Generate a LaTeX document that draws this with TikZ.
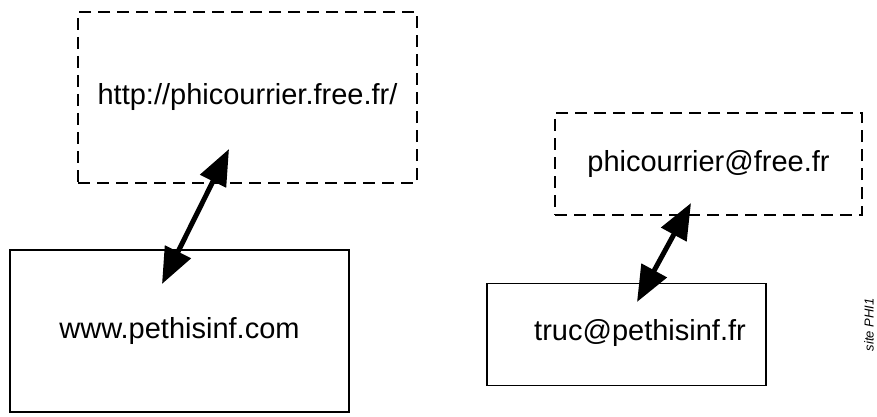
\documentclass[tikz,border=0pt]{standalone}
\usepackage{fontspec}
\setmainfont{Liberation Sans}
\usetikzlibrary{arrows.meta, positioning, calc}

\begin{document}
\begin{tikzpicture}[x=1pt, y=-1pt,
        site/.style={draw, line width=1.3pt, inner sep=0pt, font=\fontsize{29}{34}\selectfont},
        distant/.style={site, dash pattern=on 12pt off 7pt},
        caption/.style={inner sep=0pt, font=\fontsize{29}{34}\selectfont},
        link/.style={line width=5pt, {Triangle[length=36pt,width=28pt]}-{Triangle[length=36pt,width=28pt]}}]

        \useasboundingbox (0,0) rectangle (877,417);

        % remote site
        \node[distant, minimum width=339pt, minimum height=171pt] (web) at (247.5,97.5) {http://phicourrier.free.fr/};
        \node[distant, minimum width=307pt, minimum height=102pt] (mail) at (708.5,164) {phicourrier@free.fr};

        % local site
        \node[site, minimum width=339pt, minimum height=162pt] (www) at (179.5,331) {www.pethisinf.com};
        \node[site, minimum width=279pt, minimum height=102pt] (truc) at (626.5,334.5) {};
        \node[caption] (trucname) at (640,333) {truc@pethisinf.fr};

        \coordinate (webend) at (229,149);
        \coordinate (wwwend) at (162,284);
        \coordinate (mailend) at (691,203);
        \coordinate (trucend) at (637,302);

        \draw[link] (wwwend) -- (webend);
        \draw[link] (trucend) -- (mailend);

        \node[rotate=90, inner sep=0pt, font=\fontsize{13}{15}\selectfont\itshape] (tag) at (869,325) {site PHI1};
\end{tikzpicture}
\end{document}
